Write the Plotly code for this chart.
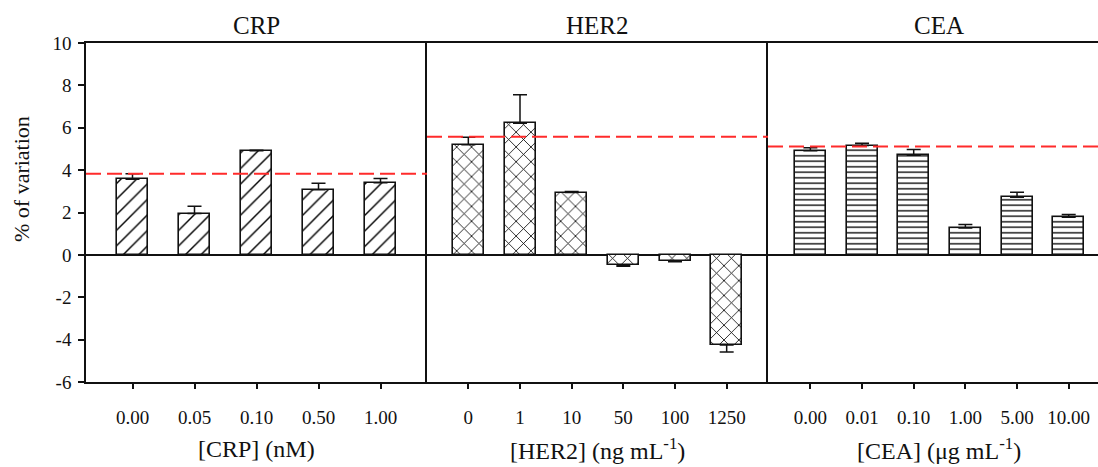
import plotly.graph_objects as go

# ---- data -------------------------------------------------------------
crp_labels = ["0.00", "0.05", "0.10", "0.50", "1.00"]
crp_values = [3.57, 1.95, 4.91, 3.07, 3.41]
crp_errors = [0.26, 0.35, 0.03, 0.31, 0.19]

her2_labels = ["0", "1", "10", "50", "100", "1250"]
her2_values = [5.20, 6.21, 2.94, -0.49, -0.28, -4.25]
her2_errors = [0.35, 1.35, 0.05, 0.05, 0.05, 0.33]

cea_labels = ["0.00", "0.01", "0.10", "1.00", "5.00", "10.00"]
cea_values = [4.92, 5.16, 4.70, 1.27, 2.72, 1.78]
cea_errors = [0.14, 0.11, 0.27, 0.16, 0.24, 0.12]

# dashed red level drawn across each panel
level_values = [3.83, 5.58, 5.11]

panel_titles = ["CRP", "HER2", "CEA"]
axis_titles = ["[CRP] (nM)", "[HER2] (ng mL<sup>-1</sup>)", "[CEA] (μg mL<sup>-1</sup>)"]

y_tick_values = [-6, -4, -2, 0, 2, 4, 6, 8, 10]
y_tick_labels = ["-6", "-4", "-2", "0", "2", "4", "6", "8", "10"]
y_title = "% of variation"

# ---- geometry -----------------------------------------------------------
W, H = 1098, 467
ML, MR, MT, MB = 86, 0, 43, 85
plot_w = W - ML - MR
plot_h = H - MT - MB
panel_px = 341  # nominal width of one panel

FONT = "Liberation Serif"
INK = "#111111"

d1 = [0, panel_px / plot_w]
d2 = [panel_px / plot_w, 2 * panel_px / plot_w]
d3 = [2 * panel_px / plot_w, 1.0]

r1 = [-0.75, len(crp_labels) - 1 + 0.75]
r2 = [-0.8, len(her2_labels) - 1 + 0.8]
unit_px = panel_px / (r2[1] - r2[0])
r3 = [-0.82, -0.82 + (d3[1] - d3[0]) * plot_w / unit_px]

panels = [
    dict(labels=crp_labels, values=crp_values, errors=crp_errors,
         shape="/", size=11, solidity=0.13, width=0.5,
         domain=d1, rng=r1),
    dict(labels=her2_labels, values=her2_values, errors=her2_errors,
         shape="x", size=10.5, solidity=0.15, width=0.6,
         domain=d2, rng=r2),
    dict(labels=cea_labels, values=cea_values, errors=cea_errors,
         shape="-", size=5.5, solidity=0.24, width=0.6,
         domain=d3, rng=r3),
]

fig = go.Figure()
layout = dict(
    width=W, height=H,
    margin=dict(l=ML, r=MR, t=MT, b=MB),
    paper_bgcolor="white", plot_bgcolor="white",
    showlegend=False,
    font=dict(family=FONT, color=INK, size=19),
    bargap=0,
)

annotations = []
shapes = []
for i, p in enumerate(panels):
    k = "" if i == 0 else str(i + 1)
    xref, yref = "x" + k, "y" + k
    up = [e if v >= 0 else 0 for v, e in zip(p["values"], p["errors"])]
    down = [e if v < 0 else 0 for v, e in zip(p["values"], p["errors"])]
    fig.add_trace(go.Bar(
        x=p["labels"], y=p["values"], width=p["width"],
        xaxis=xref, yaxis=yref,
        marker=dict(
            color="white",
            line=dict(color=INK, width=1.6),
            pattern=dict(shape=p["shape"], size=p["size"],
                         solidity=p["solidity"], fgcolor="#000000",
                         fgopacity=1, bgcolor="white", fillmode="replace"),
        ),
        error_y=dict(type="data", symmetric=False, array=up,
                     arrayminus=down, color=INK, thickness=1.5, width=7),
    ))

    layout["xaxis" + k] = dict(
        type="category", domain=p["domain"], range=p["rng"],
        anchor=yref, showline=True, mirror=True, linecolor=INK,
        linewidth=1.5, ticks="outside", ticklen=5, tickwidth=1.5,
        tickcolor=INK, showgrid=False, zeroline=False,
        tickfont=dict(family=FONT, size=19, color=INK),
        ticklabelstandoff=12, fixedrange=True,
    )
    ya = dict(
        domain=[0, 1], range=[-6, 10], anchor=xref,
        showline=True, linecolor=INK, linewidth=1.5,
        showgrid=False, zeroline=True, zerolinecolor=INK,
        zerolinewidth=1.5, fixedrange=True,
    )
    if i == 0:
        ya.update(tickvals=y_tick_values, ticktext=y_tick_labels,
                  ticks="outside", ticklen=6, tickwidth=1.5, tickcolor=INK,
                  tickfont=dict(family=FONT, size=19, color=INK),
                  ticklabelstandoff=3)
    else:
        ya.update(showticklabels=False, ticks="")
    layout["yaxis" + k] = ya

    shapes.append(dict(
        type="line", xref=xref + " domain", yref=yref,
        x0=0, x1=1, y0=level_values[i], y1=level_values[i],
        line=dict(color="#ff2b2b", width=2, dash="15px,6px"),
    ))

    full_center = (i * panel_px + panel_px / 2) / plot_w
    annotations.append(dict(
        text=panel_titles[i], x=full_center, y=1, xref="paper", yref="paper",
        xanchor="center", yanchor="bottom", yshift=2, showarrow=False,
        font=dict(family=FONT, size=25, color=INK),
    ))
    annotations.append(dict(
        text=axis_titles[i], x=full_center, y=-67 / plot_h,
        xref="paper", yref="paper", xanchor="center", yanchor="middle",
        showarrow=False, font=dict(family=FONT, size=24, color=INK),
    ))

annotations.append(dict(
    text=y_title, x=-65 / plot_w, y=(382 - 179) / plot_h,
    xref="paper", yref="paper", xanchor="center", yanchor="middle",
    textangle=-90, showarrow=False,
    font=dict(family=FONT, size=22, color=INK),
))

layout["annotations"] = annotations
layout["shapes"] = shapes
fig.update_layout(**layout)

fig.write_html("out.html")
